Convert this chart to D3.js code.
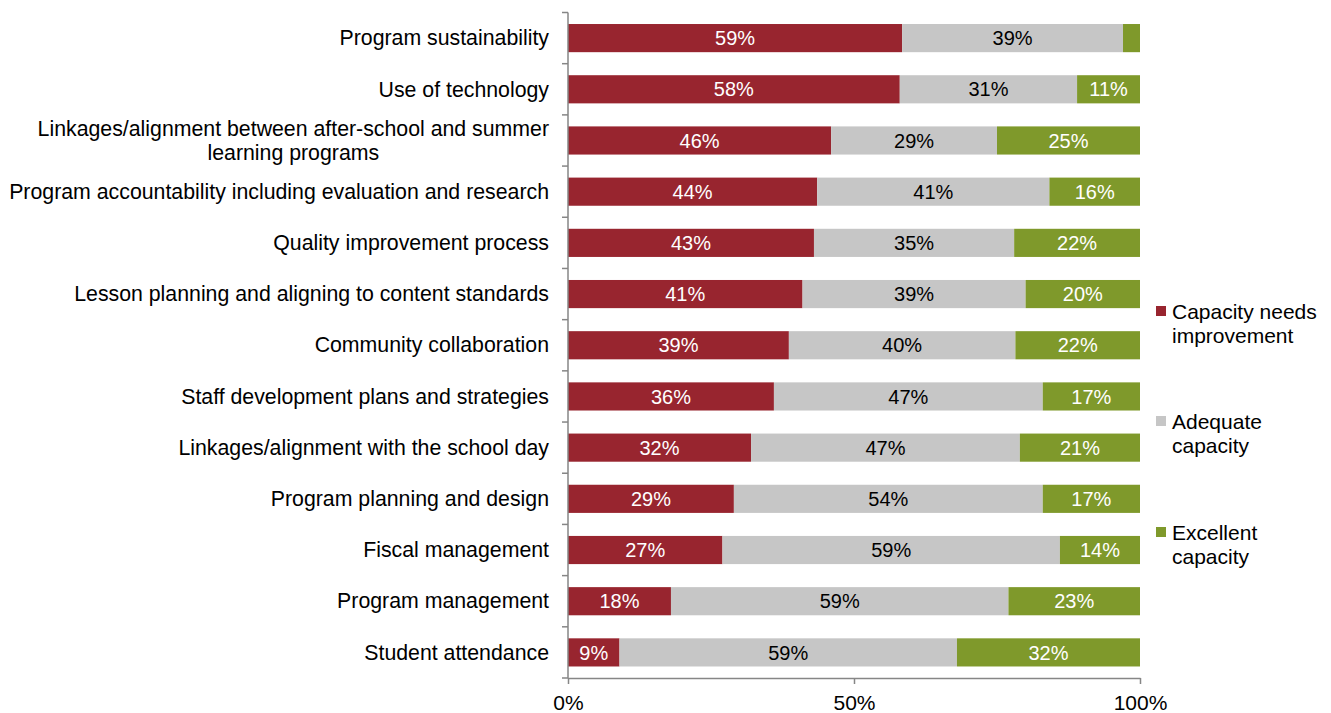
<!DOCTYPE html>
<html>
<head>
<meta charset="utf-8">
<script src="https://cdn.jsdelivr.net/npm/d3@7"></script>
<style>
  body { margin: 0; background: #fff; }
  text { font-family: "Liberation Sans", Arial, sans-serif; }
</style>
</head>
<body>
<div class="chart"></div>
<script>
// data
const categories = [
  "Program sustainability",
  "Use of technology",
  "Linkages/alignment between after-school and summer learning programs",
  "Program accountability including evaluation and research",
  "Quality improvement process",
  "Lesson planning and aligning to content standards",
  "Community collaboration",
  "Staff development plans and strategies",
  "Linkages/alignment with the school day",
  "Program planning and design",
  "Fiscal management",
  "Program management",
  "Student attendance"
]
const needsImprovement = [59, 58, 46, 44, 43, 41, 39, 36, 32, 29, 27, 18, 9]
const adequate = [39, 31, 29, 41, 35, 39, 40, 47, 47, 54, 59, 59, 59]
const excellent = [3, 11, 25, 16, 22, 20, 22, 17, 21, 17, 14, 23, 32]
const seriesNames = ["Capacity needs improvement", "Adequate capacity", "Excellent capacity"]
const xTicks = [0, 0.5, 1]

const colors = ["#98252f", "#c6c6c6", "#7f992b"]
const labelColors = ["#fff", "#000", "#fff"]

// wrapped category label
const wrapLines = {
  "Linkages/alignment between after-school and summer learning programs":
    ["Linkages/alignment between after-school and summer", "learning programs"]
}
const legendLines = [["Capacity needs", "improvement"], ["Adequate", "capacity"], ["Excellent", "capacity"]]

const W = 1331, H = 713
const pLeft = 568, pRight = 1140, pTop = 12.5, pBottom = 678
const fs = '21px'
const catFs = '21.3px'

let rows = categories.map(function(c, i){
  return {cat: c, s0: needsImprovement[i], s1: adequate[i], s2: excellent[i]}
})

let stack = d3.stack().keys(["s0", "s1", "s2"]).offset(d3.stackOffsetExpand)
let layers = stack(rows)

let x = d3.scaleLinear().domain([0, 1]).range([pLeft, pRight])
let y = d3.scaleBand().domain(categories).range([pTop, pBottom]).paddingInner(0.45).paddingOuter(0.225)

let svg = d3.select('.chart')
    .append('svg')
    .attr("width", W)
    .attr("height", H)

// bars
let g = svg.selectAll('g.layer')
    .data(layers)
    .enter()
    .append('g')
    .attr('class', 'layer')
    .attr('fill', function(d, i){ return colors[i] })

g.selectAll('rect')
    .data(function(d){ return d })
    .enter()
    .append('rect')
    .attr('x', function(d){ return x(d[0]) })
    .attr('width', function(d){ return x(d[1]) - x(d[0]) })
    .attr('y', function(d){ return y(d.data.cat) })
    .attr('height', y.bandwidth())

// value labels (tiny segments stay unlabeled)
layers.forEach(function(layer, li){
  svg.append('g').selectAll('text')
    .data(layer.filter(function(d){ return d.data["s" + li] >= 5 }))
    .enter()
    .append('text')
    .attr('x', function(d){ return (x(d[0]) + x(d[1])) / 2 })
    .attr('y', function(d){ return y(d.data.cat) + y.bandwidth() / 2 })
    .attr('dy', '0.36em')
    .attr('text-anchor', 'middle')
    .attr('fill', labelColors[li])
    .style('font-size', '20px')
    .text(function(d){ return d.data["s" + li] + "%" })
})

// y axis: line + ticks between categories
let yAxisG = svg.append('g')
yAxisG.append('line')
    .attr('x1', pLeft).attr('x2', pLeft)
    .attr('y1', pTop).attr('y2', pBottom)
    .attr('stroke', '#868686').attr('stroke-width', 1.5)
let bounds = d3.range(categories.length + 1).map(function(i){ return pTop + i * y.step() })
yAxisG.selectAll('line.tk')
    .data(bounds)
    .enter()
    .append('line')
    .attr('class', 'tk')
    .attr('x1', pLeft - 6).attr('x2', pLeft)
    .attr('y1', function(d){ return d }).attr('y2', function(d){ return d })
    .attr('stroke', '#868686').attr('stroke-width', 1.5)

// category labels
categories.forEach(function(c){
  let cy = y(c) + y.bandwidth() / 2
  let lines = wrapLines[c]
  if (!lines) {
    svg.append('text')
      .attr('x', 549).attr('y', cy).attr('dy', '0.34em')
      .attr('text-anchor', 'end')
      .style('font-size', catFs).attr('fill', '#000')
      .text(c)
  } else {
    let t = svg.append('text')
      .style('font-size', catFs).attr('fill', '#000')
      .attr('text-anchor', 'middle')
    let tmp = t.append('tspan').text(lines[0])
    let w = tmp.node().getComputedTextLength()
    tmp.remove()
    let cx = 549 - w / 2
    lines.forEach(function(l, k){
      t.append('tspan')
        .attr('x', cx)
        .attr('y', cy + (k - (lines.length - 1) / 2) * 24)
        .attr('dy', '0.34em')
        .text(l)
    })
  }
})

// x axis
let xAxis = d3.axisBottom(x).tickValues(xTicks).tickFormat(d3.format(".0%")).tickSize(6).tickSizeOuter(0)
let xg = svg.append('g')
    .attr('transform', 'translate(0,' + pBottom + ')')
    .call(xAxis)
xg.select('.domain').attr('stroke', '#868686').attr('stroke-width', 1.5)
xg.selectAll('.tick line').attr('stroke', '#868686').attr('stroke-width', 1.5)
xg.selectAll('.tick text')
    .attr('fill', '#000')
    .attr('y', 17)
    .style('font-size', fs)
    .style('font-family', '"Liberation Sans", Arial, sans-serif')

// legend
let legendY = [311, 421, 532]
let lg = svg.append('g').selectAll('g')
    .data(seriesNames)
    .enter()
    .append('g')
lg.append('rect')
    .attr('x', 1156).attr('y', function(d, i){ return legendY[i] - 5 })
    .attr('width', 10).attr('height', 10)
    .attr('fill', function(d, i){ return colors[i] })
lg.append('text')
    .style('font-size', fs).attr('fill', '#000')
    .selectAll('tspan')
    .data(function(d, i){ return legendLines[i].map(function(l, k){ return {l: l, k: k, i: i} }) })
    .enter()
    .append('tspan')
    .attr('x', 1172)
    .attr('y', function(d){ return legendY[d.i] + d.k * 24 })
    .attr('dy', '0.36em')
    .text(function(d){ return d.l })
</script>
</body>
</html>
